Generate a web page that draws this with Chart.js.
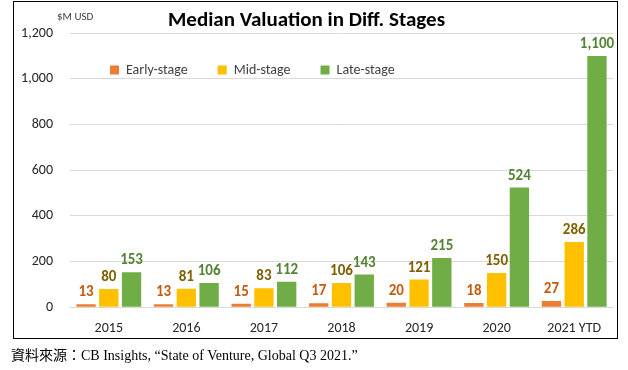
<!DOCTYPE html>
<html>
<head>
<meta charset="utf-8">
<script src="https://cdn.jsdelivr.net/npm/chart.js@4.4.1/dist/chart.umd.min.js"></script>
<style>
  body { margin: 0; background: #fff; width: 628px; height: 370px; position: relative; overflow: hidden; }
  #frame { position: absolute; left: 13px; top: 1px; width: 603px; height: 336px; border: 1px solid #000; }
  #wrap { position: absolute; left: 0; top: 0; width: 628px; height: 350px; }
  #unit { position: absolute; left: 57px; top: 10px; font: 11px Carlito, Calibri, Lato, sans-serif; color: #404040; }
  #source { position: absolute; left: 11px; top: 344px; font: 14px "Liberation Serif", "Noto Sans CJK TC", serif; color: #000; white-space: nowrap; }
</style>
</head>
<body>
<div id="frame"></div>
<div id="wrap"><canvas id="valChart" width="628" height="350"></canvas></div>
<div id="unit">$M USD</div>
<div id="source">資料來源：CB Insights, “State of Venture, Global Q3 2021.”</div>
<script>
const years = ['2015', '2016', '2017', '2018', '2019', '2020', '2021 YTD'];
const earlyStage = [13, 13, 15, 17, 20, 18, 27];
const midStage = [80, 81, 83, 106, 121, 150, 286];
const lateStage = [153, 106, 112, 143, 215, 524, 1100];

const fontFamily = 'Carlito, Calibri, Lato, sans-serif';

// value labels above each bar, colour per series
const barLabels = {
    id: 'barLabels',
    afterDatasetsDraw(chart) {
        const ctx = chart.ctx;
        ctx.save();
        ctx.font = 'bold 15px ' + fontFamily;
        ctx.textAlign = 'center';
        ctx.textBaseline = 'alphabetic';
        chart.data.datasets.forEach((ds, i) => {
            ctx.fillStyle = ds.labelColor;
            chart.getDatasetMeta(i).data.forEach((bar, j) => {
                ctx.fillText(ds.data[j].toLocaleString('en-US'), bar.x, bar.y - 8);
            });
        });
        ctx.restore();
    }
};

// legend sits inside the plot, laid out as one row
const legendSpot = {
    id: 'legendSpot',
    beforeLayout(chart) {
        if (chart.legend) chart.legend.isHorizontal = () => true;
    },
    beforeDraw(chart) {
        chart.legend.left = 80;
        chart.legend.top = 33;
    }
};

new Chart(document.getElementById('valChart').getContext('2d'), {
    type: 'bar',
    data: {
        labels: years,
        datasets: [
            { label: 'Early-stage', data: earlyStage, backgroundColor: '#ED7D31', labelColor: '#C55A11' },
            { label: 'Mid-stage', data: midStage, backgroundColor: '#FFC000', labelColor: '#7F6000' },
            { label: 'Late-stage', data: lateStage, backgroundColor: '#70AD47', labelColor: '#548235' }
        ]
    },
    options: {
        responsive: false,
        animation: false,
        layout: { padding: { left: 0, right: 15, top: 0, bottom: 0 } },
        datasets: { bar: { categoryPercentage: 0.88, barPercentage: 0.85 } },
        plugins: {
            title: {
                display: true,
                text: 'Median Valuation in Diff. Stages',
                color: '#000',
                font: { family: fontFamily, size: 21, weight: 'bold' },
                padding: { top: 8, bottom: 0 }
            },
            legend: {
                position: 'chartArea',
                align: 'start',
                labels: {
                    color: '#404040',
                    boxWidth: 9,
                    boxHeight: 9,
                    padding: 30,
                    font: { family: fontFamily, size: 14 }
                }
            },
            tooltip: { enabled: false }
        },
        scales: {
            x: {
                grid: { display: false, drawTicks: false },
                border: { display: false },
                ticks: { color: '#262626', padding: 13, font: { family: fontFamily, size: 14 } }
            },
            y: {
                min: 0,
                max: 1200,
                afterFit(scale) { scale.width = 70; },
                ticks: { stepSize: 200, color: '#262626', padding: 17, font: { family: fontFamily, size: 14 } },
                grid: { color: '#d9d9d9', drawTicks: false },
                border: { display: false }
            }
        }
    },
    plugins: [barLabels, legendSpot]
});
</script>
</body>
</html>
